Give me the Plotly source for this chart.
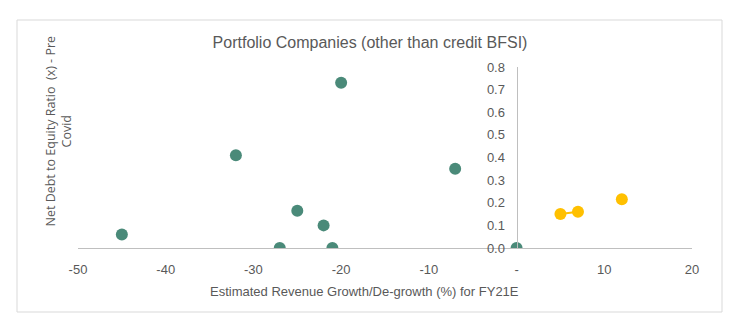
import plotly.graph_objects as go

# Data
green_x = [-45, -32, -20, -7, -25, -22, -27, -21, 0]
green_y = [0.06, 0.41, 0.73, 0.35, 0.165, 0.10, 0.0, 0.0, 0.0]
yellow_x = [5, 7, 12]
yellow_y = [0.15, 0.16, 0.215]
x_ticks = [-50, -40, -30, -20, -10, 0, 10, 20]
x_tick_labels = ["-50", "-40", "-30", "-20", "-10", "-", "10", "20"]
y_ticks = [0.0, 0.1, 0.2, 0.3, 0.4, 0.5, 0.6, 0.7, 0.8]
y_tick_labels = ["0.0", "0.1", "0.2", "0.3", "0.4", "0.5", "0.6", "0.7", "0.8"]

GREEN = "#4a8a79"
YELLOW = "#ffc000"
GREY = "#595959"
FONT = "Liberation Sans, Arial, sans-serif"
TICKFONT = dict(family=FONT, size=13, color=GREY)

fig = go.Figure()
# connector between first two yellow points
fig.add_trace(go.Scatter(x=yellow_x[:2], y=yellow_y[:2], mode="lines",
                         line=dict(color=YELLOW, width=2), hoverinfo="skip", showlegend=False))
fig.add_trace(go.Scatter(x=green_x, y=green_y, mode="markers",
                         marker=dict(color=GREEN, size=12), showlegend=False))
fig.add_trace(go.Scatter(x=yellow_x, y=yellow_y, mode="markers",
                         marker=dict(color=YELLOW, size=12), showlegend=False))

L, R, T, B = 78, 45, 67, 84
W, H = 737, 332
pw = W - L - R
ph = H - T - B

fig.update_layout(
    width=W, height=H,
    margin=dict(l=L, r=R, t=T, b=B),
    paper_bgcolor="white", plot_bgcolor="white",
    xaxis=dict(range=[-50, 20], tickvals=x_ticks, ticktext=x_tick_labels,
               showgrid=False, zeroline=False, showline=True, linecolor="#bfbfbf", linewidth=1,
               ticks="", ticklabelstandoff=9, tickfont=TICKFONT),
    yaxis=dict(range=[0, 0.8], tickvals=y_ticks, ticktext=y_tick_labels,
               showgrid=False, zeroline=False, showline=True, linecolor="#bfbfbf", linewidth=1,
               ticks="", anchor="free", position=50 / 70, ticklabelstandoff=9, tickfont=TICKFONT),
    title=dict(text="Portfolio Companies (other than credit BFSI)", x=(370 - L) / pw, xref="paper",
               xanchor="center", y=1 - 42 / H, yanchor="middle",
               font=dict(family=FONT, size=16, color=GREY)),
    annotations=[
        dict(text="Estimated Revenue Growth/De-growth (%) for FY21E", xref="paper", yref="paper",
             x=(364 - L) / pw, y=-(291 - (T + ph)) / ph, xanchor="center", yanchor="middle", showarrow=False,
             font=dict(family=FONT, size=13, color=GREY)),
        dict(text="Net Debt to Equity Ratio  (x) - Pre<br>Covid", xref="paper", yref="paper",
             x=(57.5 - L) / pw, y=((T + ph) - 131) / ph, xanchor="center", yanchor="middle", showarrow=False,
             textangle=-90,
             font=dict(family="Open Sans, DejaVu Sans, sans-serif", size=12.5, color=GREY)),
    ],
    shapes=[dict(type="rect", xref="paper", yref="paper",
                 x0=(17 - L) / pw, x1=(722 - L) / pw,
                 y0=-(312 - (T + ph)) / ph, y1=((T + ph) - 20) / ph,
                 line=dict(color="#d9d9d9", width=1), fillcolor="rgba(0,0,0,0)", layer="below")],
)

fig.write_html("out.html")
